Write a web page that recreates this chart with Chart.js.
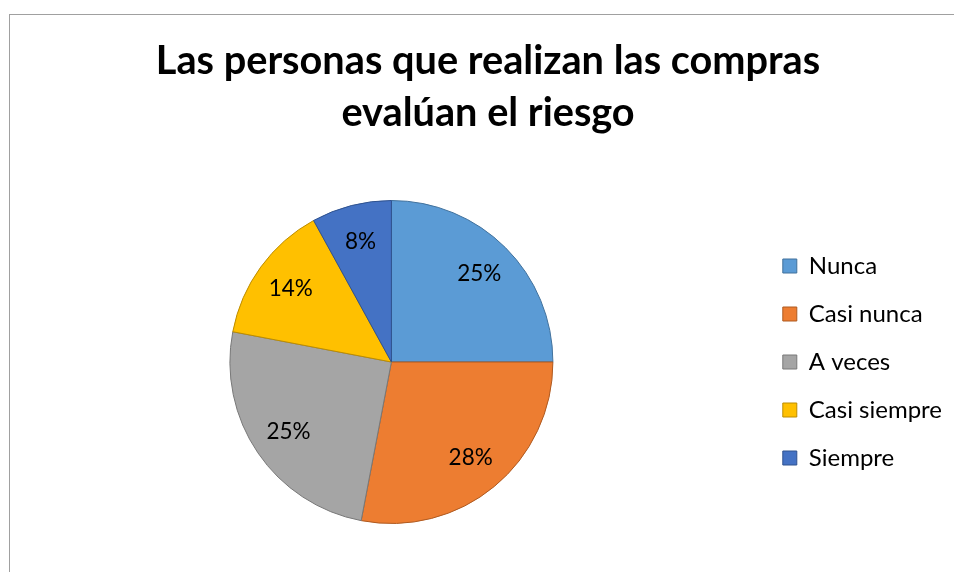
<!DOCTYPE html>
<html>
<head>
<meta charset="utf-8">
<script src="https://cdn.jsdelivr.net/npm/chart.js@4.4.1/dist/chart.umd.min.js"></script>
<style>
  html, body { margin: 0; padding: 0; background: #ffffff; overflow: hidden; }
  #wrap { position: relative; width: 954px; height: 572px; }
  #frame { position: absolute; left: 9px; top: 14px; width: 1000px; height: 600px;
           border-left: 1px solid #a0a0a0; border-top: 1px solid #a0a0a0; box-sizing: border-box; pointer-events: none; }
  canvas { position: absolute; left: 0; top: 0; }
</style>
</head>
<body>
<div id="wrap">
  <canvas id="c" width="954" height="572"></canvas>
  <div id="frame"></div>
</div>
<script>
const titleLines = ['Las personas que realizan las compras', 'evalúan el riesgo'];
const categories = ['Nunca', 'Casi nunca', 'A veces', 'Casi siempre', 'Siempre'];
const values = [25, 28, 25, 14, 8];
const fillColors = ['#5B9BD5', '#ED7D31', '#A5A5A5', '#FFC000', '#4472C4'];
const edgeColors = ['#41719C', '#AE5A21', '#787878', '#BC8C00', '#2F528F'];

const FONT = 'Lato, "Open Sans", sans-serif';

// fit title font so first line is ~665px wide
const mctx = document.createElement('canvas').getContext('2d');
mctx.font = 'bold 36px ' + FONT;
const w36 = mctx.measureText(titleLines[0]).width;
const titleSize = Math.round(36 * 665 / w36 * 10) / 10;

const pctLabels = {
  id: 'pctLabels',
  afterDatasetsDraw(chart) {
    const ctx = chart.ctx;
    const meta = chart.getDatasetMeta(0);
    const data = chart.data.datasets[0].data;
    const total = data.reduce((a, b) => a + b, 0);
    ctx.save();
    ctx.font = '22.5px ' + FONT;
    ctx.fillStyle = '#000000';
    ctx.textAlign = 'center';
    ctx.textBaseline = 'middle';
    meta.data.forEach((arc, i) => {
      const p = arc.getProps(['x', 'y', 'startAngle', 'endAngle', 'outerRadius'], true);
      const mid = (p.startAngle + p.endAngle) / 2;
      const r = p.outerRadius * 0.77;
      const pct = Math.round(data[i] / total * 100) + '%';
      ctx.fillText(pct, p.x + Math.cos(mid) * r, p.y + Math.sin(mid) * r);
    });
    ctx.restore();
  }
};

new Chart(document.getElementById('c'), {
  type: 'pie',
  data: {
    labels: categories,
    datasets: [{
      data: values,
      backgroundColor: fillColors,
      borderColor: edgeColors,
      borderWidth: 1
    }]
  },
  options: {
    responsive: false,
    animation: false,
    layout: { padding: { top: 0, bottom: 48, left: 24, right: 2 } },
    plugins: {
      tooltip: { enabled: false },
      title: {
        display: true,
        text: titleLines,
        color: '#000000',
        font: { family: FONT, size: titleSize, weight: 'bold', lineHeight: 52 / titleSize },
        padding: { top: 35, bottom: 61 }
      },
      legend: {
        position: 'right',
        align: 'center',
        fullSize: false,
        labels: {
          color: '#000000',
          font: { family: FONT, size: 24 },
          boxWidth: 14,
          boxHeight: 14,
          padding: 24
        }
      }
    }
  },
  plugins: [pctLabels]
});
</script>
</body>
</html>
